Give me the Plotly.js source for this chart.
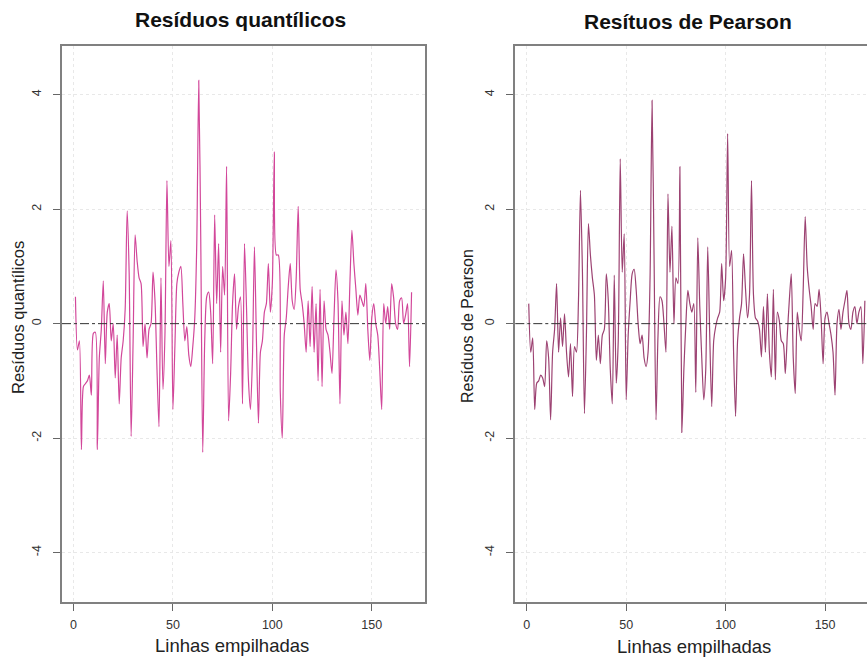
<!DOCTYPE html>
<html>
<head>
<meta charset="utf-8">
<script src="https://cdn.plot.ly/plotly-3.0.1.min.js"></script>
<style>
  html, body { margin: 0; padding: 0; background: #ffffff; }
  #chart { width: 867px; height: 661px; }
</style>
</head>
<body>
<div id="chart"></div>
<script>
// Quantile residuals, one per stacked row (1..170)
const quantileResiduals = [
  0.47, -0.46, -0.3, -2.2, -1.1, -1.05, -1.0, -0.9, -1.25, -0.17,
  -0.15, -2.2, -0.6, -0.1, 0.75, -0.7, 0.2, 0.35, -0.3, 0.0,
  -0.95, -0.2, -1.4, -0.6, -0.3, 0.25, 1.97, 0.9, -1.97, -0.3,
  1.55, 1.1, 0.8, 0.7, -0.4, 0.0, -0.6, -0.1, 0.0, 0.9,
  0.4, -0.8, -1.8, 0.8, -1.15, -0.2, 2.5, 1.0, 1.45, -1.5,
  -0.4, 0.7, 0.9, 1.0, 0.35, -0.3, -0.05, -0.55, -0.75, -0.4,
  0.1, 1.4, 4.25, 1.5, -2.25, -0.3, 0.47, 0.55, 0.2, -0.7,
  1.9, 0.35, 1.4, -0.5, 1.0, 0.5, 2.75, -1.7, -0.9, 0.35,
  0.87, -0.1, 0.3, 0.47, -1.4, 1.4, 0.3, -1.0, -1.5, -0.6,
  1.34, -0.3, -1.74, -0.5, -0.3, 0.2, 0.35, 1.05, 0.2, 0.7,
  3.0, 1.2, 1.2, -1.2, -2.0, -0.2, 0.1, 0.65, 1.05, 0.4,
  0.25, 0.8, 2.05, 0.6, 0.35, 0.0, -0.5, 0.4, -0.4, 0.65,
  -0.5, 0.35, -1.0, 0.6, -1.1, 0.4, -0.1, -0.2, -0.5, -0.87,
  0.1, 0.94, 0.4, -1.4, 0.4, -0.2, 0.2, -0.35, 0.7, 1.63,
  1.05, 0.6, 0.15, 0.5, 0.4, 0.3, 0.7, -0.1, -0.64, 0.1,
  0.35, 0.0, -0.2, -0.8, -1.5, 0.35, 0.0, 0.3, -0.1, 0.7,
  0.45, 0.0, -0.1, 0.4, 0.45, 0.0, 0.15, 0.35, -0.75, 0.55
];

// Pearson residuals, one per stacked row (1..170)
const pearsonResiduals = [
  0.35, -0.5, -0.25, -1.5, -1.04, -1.0, -0.9, -0.95, -1.1, -0.3,
  -0.6, -1.68, -0.5, -0.1, 0.7, -0.5, 0.1, -0.4, 0.17, -0.5,
  -0.93, -0.35, -1.27, -0.4, -0.5, 0.4, 2.33, 0.9, -1.57, -0.2,
  1.75, 1.2, 0.8, 0.5, -0.64, -0.2, -0.7, -0.2, -0.1, 0.87,
  0.4, -0.8, -1.4, 0.85, -1.04, -0.3, 2.88, 0.9, 1.57, -1.33,
  -0.2, 0.4, 0.87, 0.95, 0.6, 0.0, -0.35, -0.2, -0.6, -0.75,
  -0.5, 0.8, 3.9, 1.2, -1.68, -0.2, 0.47, 0.4, 0.0, -0.5,
  2.27, 0.9, 1.7, 0.0, 0.8, 0.7, 2.74, -1.9, -0.8, 0.0,
  0.58, 0.35, 0.2, 0.35, -1.2, 1.5, 0.3, -0.6, -1.33, -0.8,
  1.34, -0.2, -1.45, -0.3, -0.05, 0.1, 0.2, 1.05, 0.4, 0.8,
  3.32, 1.0, 1.28, -0.5, -1.62, -0.3, 0.1, 0.35, 1.22, 0.6,
  0.1, 0.5, 2.5, 0.5, 0.1, 0.05, -0.1, -0.58, 0.3, -0.5,
  0.52, -0.5, -0.93, 0.6, -0.98, 0.2, 0.05, -0.3, -0.35, -0.87,
  -0.2, 0.4, 0.87, -0.6, -1.22, 0.2, -0.1, -0.3, 0.6, 1.87,
  1.0, 0.6, 0.3, -0.1, 0.35, 0.3, 0.6, 0.1, -0.7, 0.1,
  0.2, 0.0, -0.2, -0.5, -1.25, 0.0, 0.25, -0.1, 0.2, 0.4,
  0.58, 0.0, -0.1, 0.2, 0.3, 0.0, 0.2, 0.3, -0.7, 0.4
];

const rowIndex = quantileResiduals.map((_, i) => i + 1);

const xTickValues = [0, 50, 100, 150];
const yTickValues = [-4, -2, 0, 2, 4];

const panelTitles = ['Resíduos quantílicos', 'Resítuos de Pearson'];
const xAxisTitle = 'Linhas empilhadas';
const yAxisTitles = ['Resíduos quantílicos', 'Resíduos de Pearson'];

const W = 867, H = 661;
const FONT = 'Liberation Sans, Arial, Helvetica, sans-serif';

// R-style frame: data range padded by 4% on each side
const xPad = (rowIndex.length - 1) * 0.04;
const xRangeFull = [1 - xPad, rowIndex.length + xPad];
const yRange = [-4.86, 4.86];

// pixel geometry of both panels
const leftPx = [62, 425];
const rightPxStart = 515.3;
const pxPerUnitRight = (425 - 62) / (xRangeFull[1] - xRangeFull[0]);
const rightRangeEnd = xRangeFull[0] + (W - rightPxStart) / pxPerUnitRight;
const yDomain = [1 - 601.8 / H, 1 - 45.5 / H];

function xAxisCfg(domain, range, anchor, mirror) {
  return {
    domain: domain, range: range, anchor: anchor,
    tickmode: 'array', tickvals: xTickValues, ticktext: xTickValues.map(String),
    ticks: 'outside', ticklen: 7, tickwidth: 1, tickcolor: '#666666',
    ticklabelstandoff: 3,
    tickfont: { family: FONT, size: 12.5, color: '#333333' },
    showline: true, mirror: mirror, linecolor: '#808080', linewidth: 2,
    showgrid: true, gridcolor: '#e8e8e8', gridwidth: 1, griddash: 'dot',
    zeroline: false, fixedrange: true
  };
}

function yAxisCfg(anchor, mirror) {
  return {
    domain: yDomain, range: yRange, anchor: anchor,
    tickmode: 'array', tickvals: yTickValues, ticktext: yTickValues.map(String),
    tickangle: -90,
    ticks: 'outside', ticklen: 7, tickwidth: 1, tickcolor: '#666666',
    ticklabelstandoff: 7,
    tickfont: { family: FONT, size: 12.5, color: '#333333' },
    showline: true, mirror: mirror, linecolor: '#808080', linewidth: 2,
    showgrid: true, gridcolor: '#e8e8e8', gridwidth: 1, griddash: 'dot',
    zeroline: false, fixedrange: true
  };
}

const traces = [
  {
    x: rowIndex, y: quantileResiduals, xaxis: 'x', yaxis: 'y',
    type: 'scatter', mode: 'lines',
    line: { color: '#d2479a', width: 1.2, shape: 'spline', smoothing: 0.7 },
    hoverinfo: 'skip'
  },
  {
    x: rowIndex, y: pearsonResiduals, xaxis: 'x2', yaxis: 'y2',
    type: 'scatter', mode: 'lines',
    line: { color: '#9c4272', width: 1.2, shape: 'spline', smoothing: 0.7 },
    hoverinfo: 'skip'
  }
];

const titleFont = { family: FONT, size: 21, color: '#111111', weight: 'bold' };
const labelFont = { family: FONT, size: 18.5, color: '#222222' };

const layout = {
  width: W, height: H,
  margin: { l: 0, r: 0, t: 0, b: 0 },
  paper_bgcolor: '#ffffff', plot_bgcolor: '#ffffff',
  showlegend: false,
  xaxis: xAxisCfg([leftPx[0] / W, leftPx[1] / W], xRangeFull, 'y', true),
  yaxis: yAxisCfg('x', true),
  xaxis2: xAxisCfg([rightPxStart / W, 1], [xRangeFull[0], rightRangeEnd], 'y2', true),
  yaxis2: yAxisCfg('x2', false),
  shapes: [
    { type: 'line', xref: 'x domain', yref: 'y', x0: 0, x1: 1, y0: 0, y1: 0,
      line: { color: '#333333', width: 1, dash: 'dashdot' } },
    { type: 'line', xref: 'x2 domain', yref: 'y2', x0: 0, x1: 1, y0: 0, y1: 0,
      line: { color: '#333333', width: 1, dash: 'dashdot' } }
  ],
  annotations: [
    { text: '<b>' + panelTitles[0] + '</b>', xref: 'paper', yref: 'paper',
      x: 240 / W, y: 1 - 20 / H, xanchor: 'center', yanchor: 'middle',
      showarrow: false, font: titleFont },
    { text: '<b>' + panelTitles[1] + '</b>', xref: 'paper', yref: 'paper',
      x: 688 / W, y: 1 - 22 / H, xanchor: 'center', yanchor: 'middle',
      showarrow: false, font: titleFont },
    { text: xAxisTitle, xref: 'paper', yref: 'paper',
      x: 232 / W, y: 1 - 645 / H, xanchor: 'center', yanchor: 'middle',
      showarrow: false, font: labelFont },
    { text: xAxisTitle, xref: 'paper', yref: 'paper',
      x: 694 / W, y: 1 - 646 / H, xanchor: 'center', yanchor: 'middle',
      showarrow: false, font: labelFont },
    { text: yAxisTitles[0], xref: 'paper', yref: 'paper', textangle: -90,
      x: 18 / W, y: 1 - 318 / H, xanchor: 'center', yanchor: 'middle',
      showarrow: false, font: { family: FONT, size: 16.5, color: '#222222' } },
    { text: yAxisTitles[1], xref: 'paper', yref: 'paper', textangle: -90,
      x: 468 / W, y: 1 - 326 / H, xanchor: 'center', yanchor: 'middle',
      showarrow: false, font: { family: FONT, size: 16, color: '#222222' } }
  ]
};

Plotly.newPlot('chart', traces, layout, { displayModeBar: false, staticPlot: true });
</script>
</body>
</html>
